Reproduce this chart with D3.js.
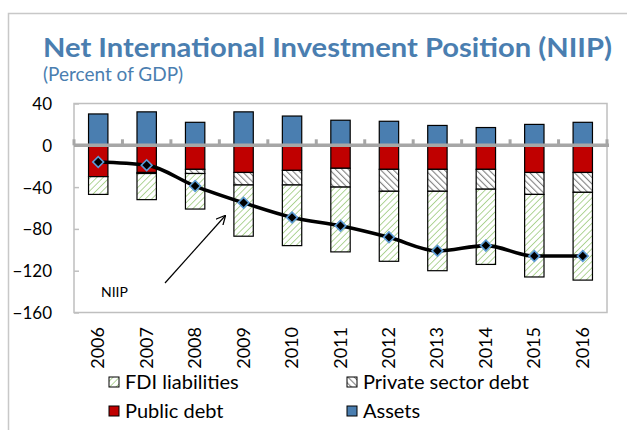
<!DOCTYPE html>
<html>
<head>
<meta charset="utf-8">
<script src="https://cdn.jsdelivr.net/npm/d3@7/dist/d3.min.js"></script>
<style>
  html, body { margin: 0; padding: 0; background: #fff; }
  svg { display: block; }
  text { font-family: Lato, "Open Sans", sans-serif; }
</style>
</head>
<body>
<svg id="chart" width="627" height="430"></svg>
<script>
// Net international investment position and its components, percent of GDP
const years = ["2006","2007","2008","2009","2010","2011","2012","2013","2014","2015","2016"];
const assets      = [30, 32, 22, 32, 28, 24, 23, 19, 17, 20, 22];
const publicDebt  = [-30, -26, -23, -26, -24, -22, -23, -23, -23, -26, -26];
const privateDebt = [0, -1, -4, -12, -14, -18, -21, -21, -19, -21, -19];
const fdiLiab     = [-17, -25, -34, -49, -58, -62, -67, -76, -72, -79, -84];
const niip        = [-16, -19, -39, -55, -69, -77, -88, -101, -96, -106, -106];
const yTicks = [40, 0, -40, -80, -120, -160];

const svg = d3.select("#chart");
const L = 74, R = 607, T = 103.5, B = 312.5;

// outer frame of the panel
svg.append("path")
  .attr("d", "M8.5,440 V13.5 H640")
  .attr("fill", "none").attr("stroke", "#c8c8c8").attr("stroke-width", 1.5);

// hatch fills
const defs = svg.append("defs");
const fdiPat = defs.append("pattern").attr("id", "fdiHatch")
  .attr("patternUnits", "userSpaceOnUse").attr("width", 4.5).attr("height", 4.5)
  .attr("patternTransform", "rotate(45)");
fdiPat.append("rect").attr("width", 4.5).attr("height", 4.5).attr("fill", "#fff");
fdiPat.append("line").attr("x1", 0).attr("y1", 0).attr("x2", 0).attr("y2", 4.5)
  .attr("stroke", "#a9d18e").attr("stroke-width", 1.8);
const privPat = defs.append("pattern").attr("id", "privHatch")
  .attr("patternUnits", "userSpaceOnUse").attr("width", 4.5).attr("height", 4.5)
  .attr("patternTransform", "rotate(-45)");
privPat.append("rect").attr("width", 4.5).attr("height", 4.5).attr("fill", "#fff");
privPat.append("line").attr("x1", 0).attr("y1", 0).attr("x2", 0).attr("y2", 4.5)
  .attr("stroke", "#808080").attr("stroke-width", 2.2);

// titles
svg.append("text").attr("x", 43).attr("y", 57)
  .attr("font-size", 27).attr("font-weight", 700).attr("fill", "#4a7eb0")
  .attr("textLength", 569).attr("lengthAdjust", "spacingAndGlyphs")
  .text("Net International Investment Position (NIIP)");
svg.append("text").attr("x", 43).attr("y", 81)
  .attr("font-size", 19).attr("fill", "#4a7eb0")
  .text("(Percent of GDP)");

const x = d3.scaleBand().domain(years).range([L, R]).paddingInner(0.6).paddingOuter(0.3);
const y = d3.scaleLinear().domain([-160, 40]).range([B, T]);

// plot frame
svg.append("rect").attr("x", L).attr("y", T).attr("width", R - L).attr("height", B - T)
  .attr("fill", "none").attr("stroke", "#bfbfbf").attr("stroke-width", 1.5);

// y axis
const yAxis = svg.append("g").attr("transform", `translate(${L},0)`)
  .call(d3.axisLeft(y).tickValues(yTicks).tickSize(-5).tickPadding(22));
yAxis.select(".domain").remove();
yAxis.selectAll(".tick line").attr("stroke", "#bfbfbf").attr("stroke-width", 1.5);
yAxis.selectAll(".tick text").attr("font-size", 17).attr("fill", "#000")
  .attr("font-family", "Lato, sans-serif").attr("dy", "0.35em");

// stacked bars
const keys = ["assets", "publicDebt", "privateDebt", "fdiLiab"];
const rows = years.map((yr, i) => ({
  year: yr, assets: assets[i], publicDebt: publicDebt[i],
  privateDebt: privateDebt[i], fdiLiab: fdiLiab[i]
}));
const stacked = d3.stack().keys(keys).offset(d3.stackOffsetDiverging)(rows);
const fills = { assets: "#4a7eb0", publicDebt: "#c00000", privateDebt: "url(#privHatch)", fdiLiab: "url(#fdiHatch)" };

svg.append("g").selectAll("g").data(stacked).join("g")
  .attr("fill", d => fills[d.key])
  .selectAll("rect").data(d => d.filter(s => s[1] - s[0] !== 0)).join("rect")
  .attr("x", d => x(d.data.year))
  .attr("width", x.bandwidth())
  .attr("y", d => y(d[1]))
  .attr("height", d => y(d[0]) - y(d[1]))
  .attr("stroke", "#000").attr("stroke-width", 1.2);

// zero axis with category ticks
const zero = svg.append("g").attr("transform", `translate(0,${y(0)})`);
zero.append("line").attr("x1", L).attr("x2", R + 2).attr("y1", 0).attr("y2", 0)
  .attr("stroke", "#a6a6a6").attr("stroke-width", 3.5);
const step = x.step();
const bounds = d3.range(years.length + 1).map(i => x(years[0]) - x.paddingOuter() * step + i * step);
zero.selectAll("line.tk").data(bounds).join("line").attr("class", "tk")
  .attr("x1", d => d).attr("x2", d => d).attr("y1", -6).attr("y2", 0)
  .attr("stroke", "#a6a6a6").attr("stroke-width", 3);

// NIIP line
const cx = yr => x(yr) + x.bandwidth() / 2;
svg.append("path").datum(niip)
  .attr("fill", "none").attr("stroke", "#000").attr("stroke-width", 3.6)
  .attr("d", d3.line().x((d, i) => cx(years[i])).y(d => y(d)).curve(d3.curveMonotoneX));
svg.append("g").selectAll("path").data(niip).join("path")
  .attr("d", d3.symbol().type(d3.symbolSquare).size(58))
  .attr("transform", (d, i) => `translate(${cx(years[i])},${y(d)}) rotate(45)`)
  .attr("fill", "#000").attr("stroke", "#5b9bd5").attr("stroke-width", 1.6);

// x labels
svg.append("g").selectAll("text").data(years).join("text")
  .attr("transform", d => `translate(${cx(d) + 6},327) rotate(-90)`)
  .attr("text-anchor", "end").attr("font-size", 18).attr("fill", "#000")
  .text(d => d);

// annotation
svg.append("text").attr("x", 101).attr("y", 297).attr("font-size", 14).attr("fill", "#000").text("NIIP");
svg.append("defs").append("marker").attr("id", "arr")
  .attr("viewBox", "0 0 10 10").attr("refX", 9).attr("refY", 5)
  .attr("markerWidth", 8).attr("markerHeight", 8).attr("orient", "auto")
  .append("path").attr("d", "M0,0 L10,5 L0,10").attr("fill", "none").attr("stroke", "#000").attr("stroke-width", 1.3);
svg.append("line").attr("x1", 165).attr("y1", 283).attr("x2", 225).attr("y2", 216)
  .attr("stroke", "#000").attr("stroke-width", 1.2).attr("marker-end", "url(#arr)");

// legend
const legendItems = [
  { label: "FDI liabilities", fill: "url(#fdiHatch)", lx: 114, ly: 382 },
  { label: "Private sector debt", fill: "url(#privHatch)", lx: 352, ly: 382 },
  { label: "Public debt", fill: "#c00000", lx: 114, ly: 411 },
  { label: "Assets", fill: "#4a7eb0", lx: 352, ly: 411 }
];
const lg = svg.append("g").selectAll("g").data(legendItems).join("g")
  .attr("transform", d => `translate(${d.lx},${d.ly})`);
lg.append("rect").attr("x", -5).attr("y", -5).attr("width", 10).attr("height", 10)
  .attr("fill", d => d.fill).attr("stroke", "#000").attr("stroke-width", 1);
lg.append("text").attr("x", 11).attr("y", 0).attr("dy", "0.35em")
  .attr("font-size", 20).attr("fill", "#000").text(d => d.label);
</script>
</body>
</html>
